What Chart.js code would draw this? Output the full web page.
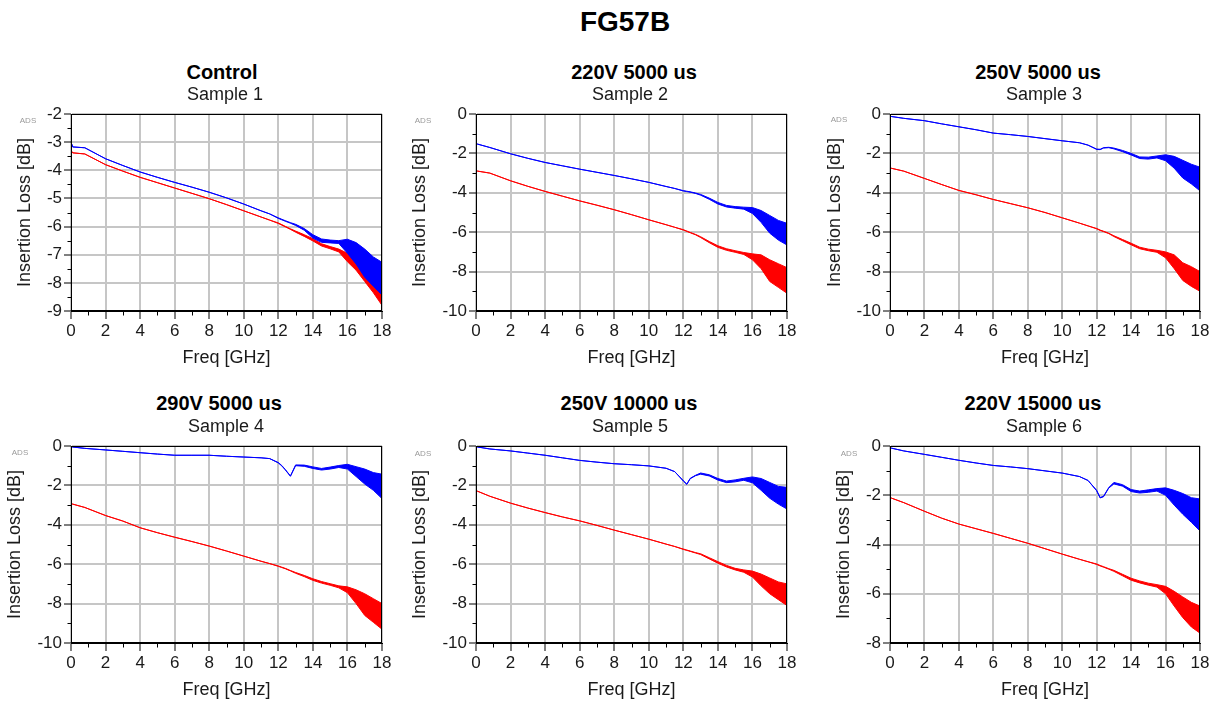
<!DOCTYPE html>
<html>
<head>
<meta charset="utf-8">
<script src="https://cdn.jsdelivr.net/npm/chart.js@4/dist/chart.umd.min.js"></script>
<style>
  html, body { margin: 0; padding: 0; background: #fff; overflow: hidden; }
  body { width: 1217px; height: 704px; position: relative; font-family: "Liberation Sans", Arial, sans-serif; color: #000; }
  .txt { position: absolute; transform: translate(-50%, -50%); white-space: nowrap; line-height: 1; }
  .main { font-size: 28px; font-weight: bold; }
  .ttl { font-size: 20px; font-weight: bold; }
  .sub { font-size: 18px; color: #1a1a1a; }
  .ads { font-size: 8px; color: #9a9a9a; }
  canvas { position: absolute; }
</style>
</head>
<body>
<div class="txt main" style="left:625px; top:22px;">FG57B</div>
<script>
// ===== data =====
const FREQ = [0, 0.1, 0.8, 2, 3, 4, 5, 6, 7, 8, 9, 10, 11, 11.5, 12, 12.2, 12.4, 12.7, 13, 13.5, 14, 14.5, 15, 15.5, 16, 16.5, 17, 17.5, 18];

const TITLES = ['Control', '220V 5000 us', '250V 5000 us', '290V 5000 us', '250V 10000 us', '220V 15000 us'];
const SUBTITLES = ['Sample 1', 'Sample 2', 'Sample 3', 'Sample 4', 'Sample 5', 'Sample 6'];

const X_TICKS = [0, 2, 4, 6, 8, 10, 12, 14, 16, 18];
const Y_MIN = [-9, -10, -10, -10, -10, -8];
const Y_MAX = [-2, 0, 0, 0, 0, 0];
const Y_STEP = [1, 2, 2, 2, 2, 2];
const Y_MINOR = [0.5, 1, 1, 1, 1, 1];

// sample 1 (control)
const s1Blue = [-3.0, -3.17, -3.2, -3.59, -3.83, -4.06, -4.25, -4.43, -4.6, -4.78, -4.98, -5.2, -5.44, -5.55, -5.7, -5.75, -5.8, -5.87, -5.94, -6.1, -6.35, -6.5, -6.53, -6.55, -6.7, -6.95, -7.3, -7.6, -7.85];
const s1BlueNoise = [0, 0, 0, 0, 0, 0, 0, 0, 0, 0, 0, 0, 0, 0, 0.01, 0.01, 0.01, 0.01, 0.02, 0.03, 0.06, 0.06, 0.05, 0.05, 0.25, 0.38, 0.5, 0.52, 0.58];
const s1Red = [-3.3, -3.38, -3.42, -3.8, -4.03, -4.25, -4.44, -4.63, -4.82, -5.01, -5.22, -5.44, -5.66, -5.77, -5.88, -5.94, -6.0, -6.09, -6.18, -6.32, -6.47, -6.65, -6.75, -6.85, -7.1, -7.35, -7.7, -8.05, -8.45];
const s1RedNoise = [0, 0, 0, 0, 0, 0, 0, 0, 0, 0, 0, 0, 0, 0, 0.01, 0.01, 0.01, 0.01, 0.02, 0.03, 0.04, 0.04, 0.04, 0.05, 0.15, 0.2, 0.25, 0.3, 0.35];

// sample 2
const s2Blue = [-1.51, -1.53, -1.7, -2.02, -2.25, -2.46, -2.63, -2.8, -2.96, -3.12, -3.29, -3.47, -3.68, -3.78, -3.9, -3.93, -3.96, -4.02, -4.1, -4.3, -4.53, -4.68, -4.74, -4.78, -4.9, -5.2, -5.6, -5.9, -6.1];
const s2BlueNoise = [0, 0, 0, 0, 0, 0, 0, 0, 0, 0, 0, 0, 0, 0, 0.01, 0.01, 0.01, 0.01, 0.02, 0.03, 0.04, 0.04, 0.04, 0.05, 0.15, 0.3, 0.45, 0.5, 0.55];
const s2Red = [-2.88, -2.9, -3.0, -3.39, -3.67, -3.93, -4.17, -4.41, -4.63, -4.86, -5.11, -5.37, -5.62, -5.75, -5.88, -5.95, -6.02, -6.12, -6.25, -6.5, -6.73, -6.88, -6.98, -7.08, -7.25, -7.5, -7.95, -8.2, -8.45];
const s2RedNoise = [0, 0, 0, 0, 0, 0, 0, 0, 0, 0, 0, 0, 0, 0, 0.01, 0.01, 0.01, 0.01, 0.02, 0.03, 0.04, 0.04, 0.04, 0.05, 0.15, 0.35, 0.55, 0.6, 0.65];

// sample 3
const s3Blue = [-0.12, -0.13, -0.22, -0.34, -0.5, -0.65, -0.8, -0.97, -1.05, -1.14, -1.25, -1.36, -1.46, -1.58, -1.79, -1.8, -1.72, -1.7, -1.75, -1.88, -2.04, -2.22, -2.24, -2.18, -2.22, -2.45, -2.8, -3.05, -3.3];
const s3BlueNoise = [0, 0, 0, 0, 0, 0, 0, 0, 0, 0, 0, 0, 0, 0, 0.01, 0.01, 0.01, 0.01, 0.02, 0.03, 0.04, 0.04, 0.05, 0.05, 0.15, 0.3, 0.45, 0.5, 0.6];
const s3Red = [-2.74, -2.76, -2.9, -3.27, -3.58, -3.88, -4.1, -4.34, -4.55, -4.76, -5.0, -5.27, -5.54, -5.68, -5.82, -5.9, -5.96, -6.06, -6.2, -6.4, -6.6, -6.8, -6.9, -6.97, -7.15, -7.5, -8.0, -8.25, -8.5];
const s3RedNoise = [0, 0, 0, 0, 0, 0, 0, 0, 0, 0, 0, 0, 0, 0, 0.01, 0.01, 0.01, 0.01, 0.02, 0.03, 0.04, 0.04, 0.04, 0.05, 0.15, 0.35, 0.45, 0.5, 0.5];

// sample 4
const s4Blue = [-0.03, -0.05, -0.12, -0.2, -0.27, -0.34, -0.41, -0.47, -0.47, -0.47, -0.52, -0.56, -0.6, -0.64, -0.85, -1.0, -1.2, -1.53, -0.98, -1.0, -1.1, -1.18, -1.12, -1.04, -1.05, -1.3, -1.55, -1.8, -2.05];
const s4BlueNoise = [0, 0, 0, 0, 0, 0, 0, 0, 0, 0, 0, 0, 0, 0, 0.01, 0.01, 0.01, 0.01, 0.02, 0.03, 0.04, 0.04, 0.05, 0.05, 0.12, 0.25, 0.38, 0.45, 0.62];
const s4Red = [-2.93, -2.95, -3.12, -3.53, -3.81, -4.15, -4.4, -4.63, -4.85, -5.08, -5.33, -5.59, -5.85, -5.97, -6.1, -6.16, -6.22, -6.33, -6.44, -6.6, -6.78, -6.92, -7.03, -7.15, -7.3, -7.65, -8.05, -8.35, -8.65];
const s4RedNoise = [0, 0, 0, 0, 0, 0, 0, 0, 0, 0, 0, 0, 0, 0, 0.01, 0.01, 0.01, 0.01, 0.02, 0.03, 0.04, 0.04, 0.04, 0.05, 0.15, 0.35, 0.55, 0.6, 0.65];

// sample 5
const s5Blue = [-0.03, -0.05, -0.15, -0.25, -0.36, -0.47, -0.6, -0.73, -0.82, -0.9, -0.95, -1.01, -1.13, -1.3, -1.77, -1.94, -1.65, -1.5, -1.4, -1.49, -1.69, -1.82, -1.77, -1.69, -1.72, -1.95, -2.25, -2.5, -2.65];
const s5BlueNoise = [0, 0, 0, 0, 0, 0, 0, 0, 0, 0, 0, 0, 0, 0, 0.01, 0.01, 0.01, 0.01, 0.03, 0.03, 0.04, 0.04, 0.05, 0.05, 0.15, 0.3, 0.4, 0.45, 0.55];
const s5Red = [-2.28, -2.3, -2.55, -2.9, -3.15, -3.38, -3.6, -3.8, -4.03, -4.27, -4.5, -4.73, -4.98, -5.1, -5.24, -5.29, -5.34, -5.42, -5.49, -5.7, -5.91, -6.1, -6.25, -6.35, -6.5, -6.8, -7.1, -7.35, -7.55];
const s5RedNoise = [0, 0, 0, 0, 0, 0, 0, 0, 0, 0, 0, 0, 0, 0, 0.01, 0.01, 0.01, 0.01, 0.02, 0.03, 0.04, 0.04, 0.04, 0.06, 0.15, 0.3, 0.4, 0.45, 0.55];

// sample 6
const s6Blue = [-0.07, -0.09, -0.2, -0.34, -0.46, -0.58, -0.69, -0.79, -0.85, -0.92, -1.01, -1.1, -1.24, -1.4, -1.81, -2.1, -2.05, -1.7, -1.51, -1.6, -1.81, -1.87, -1.83, -1.78, -1.85, -2.1, -2.35, -2.6, -2.8];
const s6BlueNoise = [0, 0, 0, 0, 0, 0, 0, 0, 0, 0, 0, 0, 0, 0, 0.01, 0.01, 0.01, 0.01, 0.03, 0.03, 0.04, 0.04, 0.05, 0.05, 0.15, 0.3, 0.42, 0.5, 0.65];
const s6Red = [-2.08, -2.12, -2.3, -2.65, -2.93, -3.17, -3.36, -3.55, -3.75, -3.95, -4.17, -4.39, -4.6, -4.7, -4.8, -4.86, -4.91, -4.99, -5.07, -5.24, -5.41, -5.52, -5.61, -5.68, -5.85, -6.2, -6.55, -6.85, -7.05];
const s6RedNoise = [0, 0, 0, 0, 0, 0, 0, 0, 0, 0, 0, 0, 0, 0, 0.01, 0.01, 0.01, 0.01, 0.02, 0.03, 0.04, 0.04, 0.04, 0.05, 0.15, 0.3, 0.42, 0.5, 0.55];

const BLUE = [s1Blue, s2Blue, s3Blue, s4Blue, s5Blue, s6Blue];
const BLUE_NOISE = [s1BlueNoise, s2BlueNoise, s3BlueNoise, s4BlueNoise, s5BlueNoise, s6BlueNoise];
const RED = [s1Red, s2Red, s3Red, s4Red, s5Red, s6Red];
const RED_NOISE = [s1RedNoise, s2RedNoise, s3RedNoise, s4RedNoise, s5RedNoise, s6RedNoise];

// ===== layout =====
const FONT = '"Liberation Sans", Arial, sans-serif';
const colLeft = [0, 400, 810];
const colWidth = [400, 405, 407];
const colAxisW = [71, 76, 80];      // y axis box width -> plot left edge
const colPadR = [18, 18, 17];
const rowTop = [100, 432];
const CANVAS_H = 269;
const yTitlePad = [[14.7, 9.2, 14.2], [4.7, 9.2, 23.2]];
const titlePos = [[222, 634, 1038], [219, 629, 1033]];
const subPos = [[225, 630, 1044], [226, 630, 1044]];
const titleY = [72, 403];
const subY = [94, 426];
const adsPos = [[[28, 121], [423, 121], [839, 120]], [[20, 453], [423, 454], [849, 454]]];

function addText(cls, text, x, y) {
  const d = document.createElement('div');
  d.className = 'txt ' + cls;
  d.style.left = x + 'px';
  d.style.top = y + 'px';
  d.textContent = text;
  document.body.appendChild(d);
}

// frame + minor ticks (ADS style)
const frameMinor = {
  id: 'frameMinor',
  afterDatasetsDraw(chart, args, opts) {
    const { ctx, chartArea: a, scales: { x, y } } = chart;
    ctx.save();
    ctx.strokeStyle = '#000';
    ctx.lineWidth = 1;
    const L = Math.round(a.left) + 0.5, R = Math.round(a.right) - 0.5;
    const T = Math.round(a.top) + 0.5, B = Math.round(a.bottom) - 0.5;
    ctx.strokeRect(L, T, R - L, B - T);
    ctx.beginPath();
    const nx = Math.round((x.max - x.min) / opts.xMinor);
    const kx = Math.round(opts.xMajor / opts.xMinor);
    for (let i = 0; i <= nx; i++) {
      if (i % kx === 0) continue;
      const px = Math.round(x.getPixelForValue(x.min + i * opts.xMinor)) + 0.5;
      ctx.moveTo(px, B);
      ctx.lineTo(px, B + 5);
    }
    const ny = Math.round((y.max - y.min) / opts.yMinor);
    const ky = Math.round(opts.yMajor / opts.yMinor);
    for (let i = 0; i <= ny; i++) {
      if (i % ky === 0) continue;
      const py = Math.round(y.getPixelForValue(y.min + i * opts.yMinor)) + 0.5;
      ctx.moveTo(L - 4, py);
      ctx.lineTo(L, py);
    }
    ctx.stroke();
    ctx.restore();
  }
};

function edge(vals, noise, sign) {
  return FREQ.map((f, i) => ({ x: f, y: vals[i] + sign * noise[i] }));
}

function trace(data, color, fill) {
  return {
    data, borderColor: color, backgroundColor: color, borderWidth: 1,
    pointRadius: 0, tension: 0, fill: fill ? '-1' : false
  };
}

function makePanel(k) {
  const row = Math.floor(k / 3), col = k % 3;
  const cv = document.createElement('canvas');
  cv.width = colWidth[col];
  cv.height = CANVAS_H;
  cv.style.left = colLeft[col] + 'px';
  cv.style.top = rowTop[row] + 'px';
  document.body.appendChild(cv);

  addText('ttl', TITLES[k], titlePos[row][col], titleY[row]);
  addText('sub', SUBTITLES[k], subPos[row][col], subY[row]);
  addText('ads', 'ADS', adsPos[row][col][0], adsPos[row][col][1]);

  const tickFont = { family: FONT, size: 17 };
  const titleFont = { family: FONT, size: 18 };

  new Chart(cv.getContext('2d'), {
    type: 'line',
    data: {
      datasets: [
        trace(edge(BLUE[k], BLUE_NOISE[k], 1), '#0000ff', false),
        trace(edge(BLUE[k], BLUE_NOISE[k], -1), '#0000ff', true),
        trace(edge(RED[k], RED_NOISE[k], 1), '#ff0000', false),
        trace(edge(RED[k], RED_NOISE[k], -1), '#ff0000', true)
      ]
    },
    options: {
      responsive: false,
      animation: false,
      events: [],
      layout: { padding: { top: 14, right: colPadR[col], left: 0, bottom: 0 } },
      plugins: {
        legend: { display: false },
        tooltip: { enabled: false },
        frameMinor: { xMinor: 1, xMajor: 2, yMinor: Y_MINOR[k], yMajor: Y_STEP[k] }
      },
      scales: {
        x: {
          type: 'linear', min: X_TICKS[0], max: X_TICKS[X_TICKS.length - 1],
          afterBuildTicks: s => { s.ticks = X_TICKS.map(v => ({ value: v })); },
          ticks: { font: tickFont, color: '#1a1a1a', padding: 2, maxRotation: 0, autoSkip: false },
          grid: { color: '#c6c6c6', lineWidth: 2, tickColor: '#000', tickWidth: 1, tickLength: 8 },
          border: { color: '#000', width: 1 },
          title: { display: true, text: 'Freq [GHz]', font: titleFont, color: '#1a1a1a', padding: { top: 0, bottom: 0 } },
          afterFit: s => { s.height = 58; }
        },
        y: {
          type: 'linear', min: Y_MIN[k], max: Y_MAX[k],
          ticks: { stepSize: Y_STEP[k], font: tickFont, color: '#1a1a1a', padding: 2 },
          grid: { color: '#c6c6c6', lineWidth: 2, tickColor: '#000', tickWidth: 1, tickLength: 7 },
          border: { color: '#000', width: 1 },
          title: { display: true, text: 'Insertion Loss [dB]', font: titleFont, color: '#1a1a1a', padding: { top: yTitlePad[row][col], bottom: 0 } },
          afterFit: s => { s.width = colAxisW[col]; }
        }
      }
    },
    plugins: [frameMinor]
  });
}

for (let k = 0; k < 6; k++) makePanel(k);
</script>
</body>
</html>
